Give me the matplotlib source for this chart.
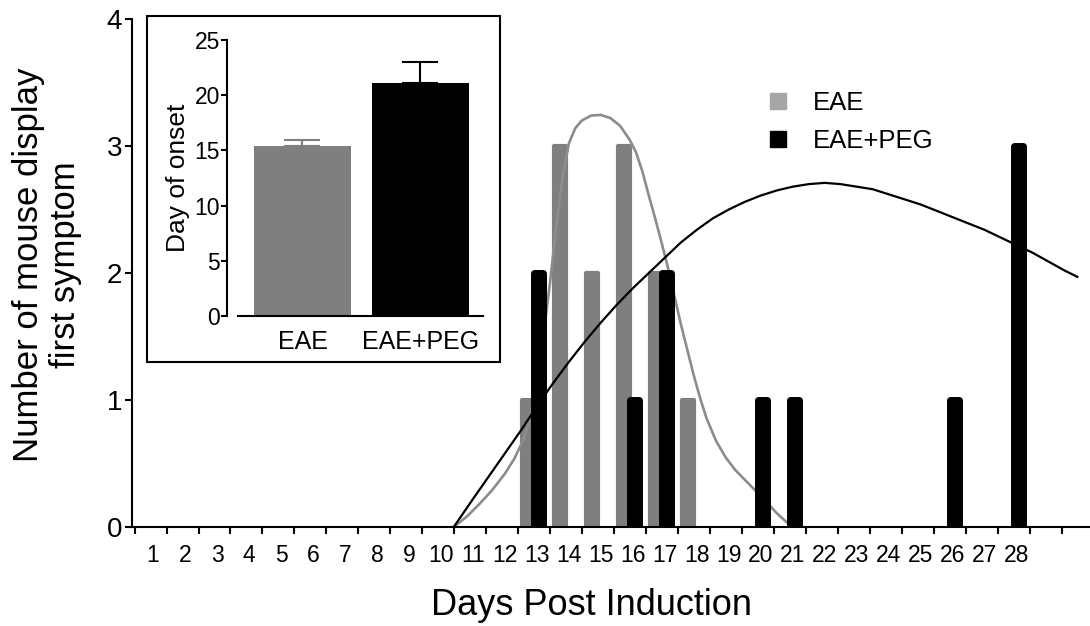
import matplotlib
matplotlib.use('Agg')
import matplotlib.pyplot as plt
from matplotlib.lines import Line2D
from matplotlib.patches import Rectangle
import numpy as np

plt.rcParams['font.family'] = ['Liberation Sans', 'DejaVu Sans']

# histogram of first-symptom day
eae_days = [13, 14, 15, 16, 17, 18]
eae_counts = [1, 3, 2, 3, 2, 1]
peg_days = [13, 16, 17, 20, 21, 26, 28]
peg_counts = [2, 1, 2, 1, 1, 1, 3]

# fitted curves
eae_fit_x = [10.4, 10.8, 11.2, 11.6, 12.0, 12.3, 12.6, 12.8, 13.0, 13.2, 13.4, 13.6,
             13.8, 14.0, 14.2, 14.4, 14.7, 15.0, 15.3, 15.6, 15.9, 16.1, 16.3, 16.5,
             16.7, 16.9, 17.1, 17.3, 17.5, 17.7, 17.9, 18.1, 18.3, 18.6, 18.9, 19.2,
             19.55, 19.9, 20.2, 20.5, 20.8, 21.0]
eae_fit_y = [0.0, 0.08, 0.18, 0.29, 0.42, 0.54, 0.70, 0.88, 1.15, 1.50, 1.90, 2.35,
             2.75, 3.02, 3.14, 3.20, 3.24, 3.245, 3.22, 3.16, 3.05, 2.95, 2.80, 2.61,
             2.43, 2.24, 2.04, 1.82, 1.60, 1.40, 1.20, 1.02, 0.86, 0.68, 0.55, 0.45,
             0.36, 0.27, 0.19, 0.11, 0.04, 0.0]
peg_fit_x = [10.4, 11.0, 11.5, 12.0, 12.5, 13.0, 13.5, 14.0, 14.5, 15.0, 15.5, 16.0,
             16.5, 17.0, 17.5, 18.0, 18.5, 19.0, 19.5, 20.0, 20.5, 21.0, 21.5, 22.0,
             22.5, 23.0, 23.5, 24.0, 24.5, 25.0, 25.5, 26.0, 26.5, 27.0, 27.5, 28.0,
             28.5, 29.0, 29.5, 29.9]
peg_fit_y = [0.0, 0.22, 0.40, 0.58, 0.76, 0.95, 1.13, 1.30, 1.46, 1.61, 1.75, 1.88,
             2.00, 2.12, 2.24, 2.34, 2.43, 2.50, 2.56, 2.61, 2.65, 2.68, 2.70, 2.71,
             2.70, 2.68, 2.66, 2.62, 2.58, 2.54, 2.49, 2.44, 2.39, 2.34, 2.28, 2.22,
             2.16, 2.09, 2.02, 1.97]

# inset: day of onset
groups = ['EAE', 'EAE+PEG']
onset_mean = [15.4, 21.1]
onset_sem = [0.5, 1.9]

GRAY = '#7f7f7f'

fig = plt.figure(figsize=(10.9, 6.26), dpi=100)
ax = fig.add_axes([0.1211, 0.1581, 0.879, 0.8115])

ax.bar(np.array(eae_days) - 0.27, eae_counts, width=0.37, color=GRAY,
       edgecolor=GRAY, linewidth=3, joinstyle='round', zorder=1)
ax.plot(eae_fit_x, eae_fit_y, color='#8c8c8c', lw=1.9, zorder=2)
ax.plot(peg_fit_x, peg_fit_y, color='black', lw=1.6, zorder=3)
ax.bar(np.array(peg_days) + 0.05, peg_counts, width=0.28, color='black',
       edgecolor='black', linewidth=5, joinstyle='round', zorder=4)

ax.set_xlim(0.34, 30.3)
ax.set_ylim(0, 4)
for s in ['top', 'right']:
    ax.spines[s].set_visible(False)
for s in ['left', 'bottom']:
    ax.spines[s].set_linewidth(1.5)

ax.set_yticks([0, 1, 2, 3, 4])
ax.tick_params(axis='y', length=5, width=1.5, pad=2, labelsize=20)

days = np.arange(1, 29)
ax.set_xticks(np.arange(0.42, 30, 1.0))
ax.set_xticklabels([])
ax.set_xticks(days, minor=True)
ax.set_xticklabels([str(d) for d in days], minor=True, fontsize=16.5)
ax.tick_params(axis='x', which='major', length=5, width=1.5)
ax.tick_params(axis='x', which='minor', length=0, pad=12)

ax.set_xlabel('Days Post Induction', fontsize=26)
ax.xaxis.set_label_coords(0.48, -0.12)
ax.set_ylabel('Number of mouse display\nfirst symptom', fontsize=25, linespacing=1.15)
ax.yaxis.set_label_coords(-0.052, 0.516)

handles = [Line2D([], [], marker='s', ls='', ms=11, color='#a6a6a6', label='EAE'),
           Line2D([], [], marker='s', ls='', ms=11, color='black', label='EAE+PEG')]
fig.legend(handles=handles, loc='upper left', bbox_to_anchor=(0.7023, 0.8554),
           frameon=False, fontsize=18.5, handlelength=1.0, handletextpad=0.84,
           labelspacing=0.58, borderpad=0, borderaxespad=0)

# inset frame
fig.patches.append(Rectangle((0.1349, 0.4217), 0.3239, 0.5527, transform=fig.transFigure,
                             facecolor='white', edgecolor='black', lw=1.5, zorder=1))

ins = fig.add_axes([0.2183, 0.4952, 0.2248, 0.4409])
ins.set_zorder(2)
ins.patch.set_visible(False)
xpos = np.arange(len(groups))
bar_colors = [GRAY, 'black']
ins.bar(xpos, onset_mean, width=0.82, color=bar_colors, zorder=2)
for x, m, e, c in zip(xpos, onset_mean, onset_sem, bar_colors):
    ins.errorbar(x, m, yerr=[[0], [e]], fmt='none', ecolor=c, elinewidth=1.5,
                 capsize=13, capthick=1.5, zorder=1)
ins.set_xlim(-0.547, 1.53)
ins.set_ylim(0, 25)
ins.set_yticks([0, 5, 10, 15, 20, 25])
ins.set_xticks(xpos)
ins.set_xticklabels(groups, fontsize=18)
ins.tick_params(axis='x', length=0, pad=10)
ins.tick_params(axis='y', length=4, width=1.5, pad=1, labelsize=16.5)
for s in ['top', 'right']:
    ins.spines[s].set_visible(False)
ins.spines['left'].set_position(('outward', 8))
ins.spines['left'].set_linewidth(1.5)
ins.spines['bottom'].set_linewidth(1.5)
ins.set_ylabel('Day of onset', fontsize=19, labelpad=3)

fig.savefig('out.png', dpi=100)
